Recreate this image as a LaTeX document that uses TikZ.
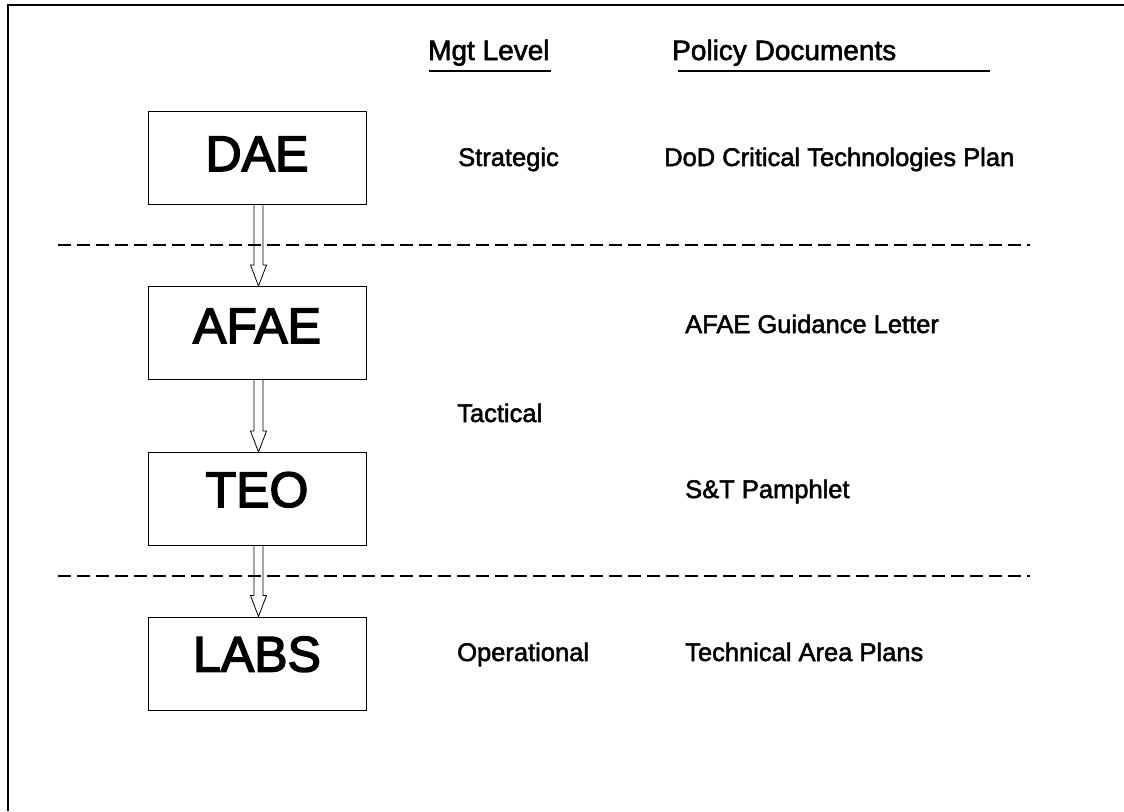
\documentclass[tikz,border=0pt]{standalone}
\usepackage{fontspec}
\setmainfont{Liberation Sans}
\newfontfamily\inkfont[FakeBold=2]{Liberation Sans}
\newfontfamily\boxfont[FakeBold=3]{Liberation Sans}
\usetikzlibrary{calc}

\tikzset{
  levelbox/.style={draw, line width=0.9pt, minimum width=218pt, minimum height=93pt,
    inner sep=0pt, font=\boxfont\fontsize{50}{50}\selectfont, text height=36pt, text depth=20pt},
  doctext/.style={anchor=base west, inner sep=0pt, font=\inkfont\fontsize{25.5}{27}\selectfont},
  headtext/.style={anchor=base west, inner sep=0pt, font=\inkfont\fontsize{28}{30}\selectfont},
  divider/.style={line width=1.2pt, dash pattern=on 13pt off 6pt},
  headrule/.style={line width=1.5pt},
  framerule/.style={line width=2pt},
  flowarrow/.style={line width=0.8pt, line join=miter},
}

% hollow double-shaft arrow from the bottom of #1 to the top of #2
\newcommand\levelarrow[2]{%
  \draw[flowarrow]
    ($(#1.south)+(-3,0)$) -- ($(#2.north)+(-3,-21)$) -- ($(#2.north)+(-6.5,-21)$)
    -- ($(#2.north)+(1.5,0)$)
    -- ($(#2.north)+(9.5,-21)$) -- ($(#2.north)+(6,-21)$) -- ($(#1.south)+(6,0)$);
}

\begin{document}
\begin{tikzpicture}[x=1pt,y=-1pt]
  \useasboundingbox (0,0) rectangle (1124,811);

  % outer frame (top and left edges)
  \coordinate (fbl) at (8,811);
  \coordinate (ftl) at (8,5);
  \coordinate (ftr) at (1124,5);
  \draw[framerule] (fbl) -- (ftl) -- (ftr);

  % column headings
  \node[headtext] (hmgt) at (428,60) {Mgt Level};
  \node[headtext] (hdoc) at (672,60) {Policy Documents};
  \coordinate (umgtl) at (429,71);
  \coordinate (umgtr) at (551,71);
  \coordinate (udocl) at (678,71);
  \coordinate (udocr) at (990,71);
  \draw[headrule] (umgtl) -- (umgtr);
  \draw[headrule] (udocl) -- (udocr);

  % organisation boxes
  \node[levelbox, text depth=9pt] (dae) at (257,157.5) {DAE};
  \node[levelbox, text depth=16pt] (afae) at (257,333) {AFAE};
  \node[levelbox] (teo)  at (257,499)   {TEO};
  \node[levelbox] (labs) at (257,663.5) {LABS};

  % level dividers
  \coordinate (d1l) at (58,245);
  \coordinate (d1r) at (1030,245);
  \coordinate (d2l) at (58,576);
  \coordinate (d2r) at (1030,576);
  \draw[divider] (d1l) -- (d1r);
  \draw[divider] (d2l) -- (d2r);

  % flow arrows
  \levelarrow{dae}{afae}
  \levelarrow{afae}{teo}
  \levelarrow{teo}{labs}

  % management levels
  \node[doctext] (lstrat) at (458,166) {Strategic};
  \node[doctext] (ltact)  at (457,422) {Tactical};
  \node[doctext] (loper)  at (457,661) {Operational};

  % policy documents
  \node[doctext] (pdod)  at (664,166) {DoD Critical Technologies Plan};
  \node[doctext] (pafae) at (685,333) {AFAE Guidance Letter};
  \node[doctext] (pst)   at (685,498) {S\&T Pamphlet};
  \node[doctext] (ptech) at (685,661) {Technical Area Plans};
\end{tikzpicture}
\end{document}
